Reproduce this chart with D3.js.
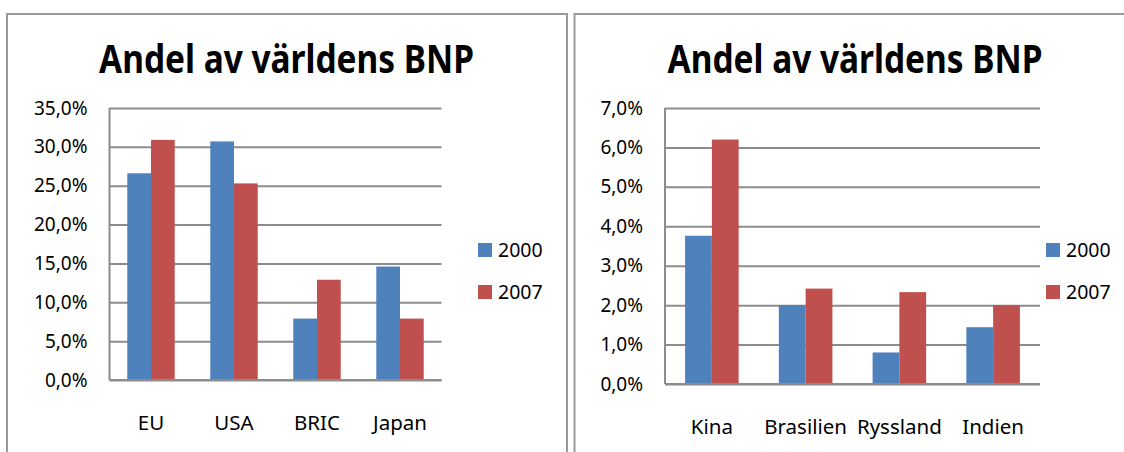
<!DOCTYPE html>
<html>
<head>
<meta charset="utf-8">
<script src="https://cdn.jsdelivr.net/npm/d3@7"></script>
<style>
  body { margin: 0; background: #fff; }
  svg { display: block; font-family: "Noto Sans", "Open Sans", sans-serif; }
</style>
</head>
<body>
<div id="chart-area"></div>
<script>
// data
const TITLE = "Andel av världens BNP"
const SERIES = ["2000", "2007"]
const COLORS = ["#4F81BD", "#C0504D"]

const leftCategories = ["EU", "USA", "BRIC", "Japan"]
const left2000 = [26.6, 30.7, 7.9, 14.6]
const left2007 = [30.9, 25.3, 12.9, 7.9]
const leftTicks = [0, 5, 10, 15, 20, 25, 30, 35]

const rightCategories = ["Kina", "Brasilien", "Ryssland", "Indien"]
const right2000 = [3.76, 2.0, 0.8, 1.44]
const right2007 = [6.2, 2.42, 2.33, 2.0]
const rightTicks = [0, 1, 2, 3, 4, 5, 6, 7]

const svg = d3.select("#chart-area").append("svg")
	.attr("width", 1124)
	.attr("height", 452)

const fmt = d => d.toFixed(1).replace(".", ",") + "%"

function drawChart(opts) {
	const { frame, plot, titleX, legendX, categories, s2000, s2007, ticks } = opts

	// outer frame
	svg.append("rect")
		.attr("x", frame.x)
		.attr("y", frame.y)
		.attr("width", frame.w)
		.attr("height", frame.h)
		.attr("fill", "none")
		.attr("stroke", "#9a9a9a")
		.attr("stroke-width", 2)

	svg.append("text")
		.attr("x", titleX)
		.attr("y", 73)
		.attr("text-anchor", "middle")
		.attr("font-size", "39px")
		.attr("font-weight", "bold")
		.attr("textLength", 375)
		.attr("lengthAdjust", "spacingAndGlyphs")
		.text(TITLE)

	const g = svg.append("g")
		.attr("transform", `translate(${plot.x}, ${plot.y})`)

	const x0 = d3.scaleBand()
		.domain(categories)
		.range([0, plot.w])

	// Excel style: gap width 150% -> bars take 2/3.5 of each band
	const barW = x0.bandwidth() / 3.5
	const x1 = d3.scaleBand()
		.domain(SERIES)
		.range([barW * 0.75, barW * 2.75])

	const y = d3.scaleLinear()
		.domain([d3.min(ticks), d3.max(ticks)])
		.range([plot.h, 0])

	const yAxisCall = d3.axisLeft(y)
		.tickValues(ticks)
		.tickSize(-plot.w)
		.tickPadding(22)
		.tickFormat(fmt)

	const yAxisGroup = g.append("g")
		.attr("class", "y axis")
		.call(yAxisCall)
	yAxisGroup.select(".domain").remove()
	yAxisGroup.selectAll("line")
		.attr("stroke", "#8c8c8c")
		.attr("stroke-width", 2)
	yAxisGroup.selectAll("text")
		.attr("font-size", "19px")
		.attr("font-family", "Noto Sans")
		.attr("fill", "#000")

	const rows = categories.map((c, i) => ({ cat: c, vals: [s2000[i], s2007[i]] }))

	const groups = g.selectAll("g.cat")
		.data(rows)
		.enter().append("g")
		.attr("class", "cat")
		.attr("transform", d => `translate(${x0(d.cat)}, 0)`)

	groups.selectAll("rect")
		.data(d => d.vals.map((v, i) => ({ key: SERIES[i], v: v, i: i })))
		.enter().append("rect")
		.attr("x", d => x1(d.key))
		.attr("width", x1.bandwidth())
		.attr("y", d => y(d.v))
		.attr("height", d => plot.h - y(d.v))
		.attr("fill", d => COLORS[d.i])

	// vertical axis line
	g.append("line")
		.attr("x1", 0).attr("x2", 0)
		.attr("y1", 0).attr("y2", plot.h)
		.attr("stroke", "#8c8c8c")
		.attr("stroke-width", 2)

	// baseline
	g.append("line")
		.attr("x1", 0).attr("x2", plot.w)
		.attr("y1", plot.h).attr("y2", plot.h)
		.attr("stroke", "#8c8c8c")
		.attr("stroke-width", 2)

	// category labels
	g.selectAll("text.cat-label")
		.data(categories)
		.enter().append("text")
		.attr("class", "cat-label")
		.attr("x", d => x0(d) + x0.bandwidth() / 2)
		.attr("y", plot.h + 50)
		.attr("text-anchor", "middle")
		.attr("font-size", "20.5px")
		.text(d => d)

	// legend
	const legend = svg.selectAll(null)
		.data(SERIES)
		.enter().append("g")
		.attr("transform", (d, i) => `translate(${legendX}, ${243 + i * 42})`)
	legend.append("rect")
		.attr("width", 14)
		.attr("height", 14)
		.attr("fill", (d, i) => COLORS[i])
	legend.append("text")
		.attr("x", 20)
		.attr("y", 14)
		.attr("font-size", "19.5px")
		.text(d => d)
}

drawChart({
	frame: { x: 7, y: 14, w: 560, h: 460 },
	plot: { x: 109.5, y: 108, w: 332, h: 272 },
	titleX: 286.5,
	legendX: 478,
	categories: leftCategories,
	s2000: left2000,
	s2007: left2007,
	ticks: leftTicks
})

drawChart({
	frame: { x: 574.5, y: 14, w: 560, h: 460 },
	plot: { x: 665, y: 108, w: 375, h: 276 },
	titleX: 855,
	legendX: 1046,
	categories: rightCategories,
	s2000: right2000,
	s2007: right2007,
	ticks: rightTicks
})
</script>
</body>
</html>
